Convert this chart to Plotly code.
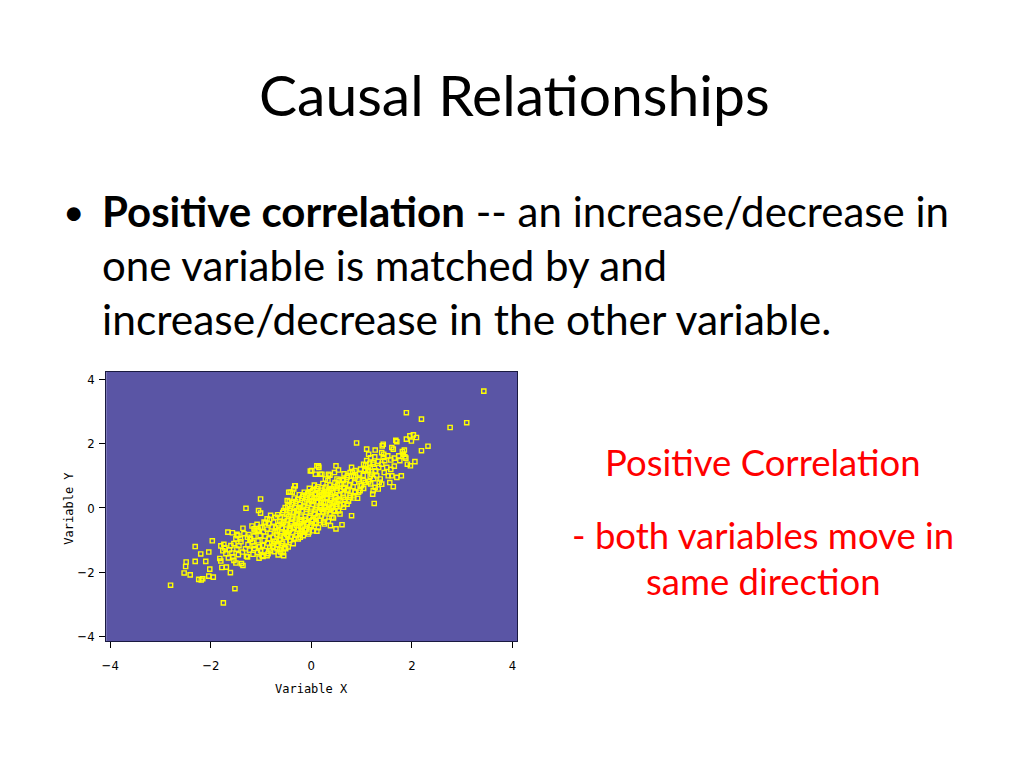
import plotly.graph_objects as go

# ---- data ----
lower_tail = [(-2.80,-2.40),(-1.75,-2.95),(-1.52,-2.51),(-2.31,-1.20),(-2.53,-2.02),(-2.41,-2.08),
    (-2.50,-1.82),(-2.49,-1.68),(-2.31,-1.66),(-2.24,-2.22),(-2.19,-2.24),(-2.16,-2.20),(-2.20,-1.43),
    (-2.10,-1.66),(-2.04,-1.37),(-2.04,-2.12),(-1.95,-2.15),(-2.02,-1.90),(-1.97,-1.02),(-1.82,-1.57),
    (-1.80,-1.65),(-1.78,-1.85),(-1.69,-1.84),(-1.61,-2.01),(-1.74,-1.13),(-1.72,-1.24),(-1.76,-1.33),
    (-1.80,-1.18),(-1.70,-1.42),(-1.66,-0.75),(-1.57,-0.77),(-1.48,-0.82),(-1.54,-1.63),(-1.50,-1.71),
    (-1.56,-1.52),(-1.39,-1.73),(-1.36,-1.79),(-1.29,-1.50),(-1.36,-0.63),(-1.30,-0.01),(-1.01,0.28),
    (-1.05,-0.08),(-1.01,-0.16),(-1.41,-0.96),(-1.44,-1.17),(-1.37,-1.37),(-1.31,-1.27),(-1.54,-1.11),
    (-1.60,-1.17),(-1.50,-0.96),(-1.46,-0.86),(-1.63,-1.30),(-1.58,-1.40),(-1.45,-1.45),(-1.40,-1.05),
    (-1.34,-0.80),(-1.48,-1.28),(-1.65,-1.55)]

upper_tail = [(3.43,3.63),(1.89,2.96),(2.19,2.76),(2.76,2.50),(3.09,2.65),(2.32,1.92),(2.19,1.78),
    (2.06,1.44),(1.68,2.10),(1.89,2.14),(1.96,2.24),(2.03,2.27),(2.09,2.19),(1.99,2.08),(0.90,2.02),
    (1.10,1.83),(1.14,1.67),(1.10,1.47),(1.27,1.80),(1.41,1.93),(1.43,1.98),(1.40,1.72),(1.44,1.67),
    (1.43,1.57),(1.58,1.49),(1.63,1.83),(1.60,1.88),(1.70,2.06),(1.76,1.47),(1.83,1.67),(1.81,1.75),
    (1.86,1.59),(1.88,1.55),(1.91,1.36),(1.97,1.31),(1.79,1.00),(1.60,1.00),(1.53,1.00),(1.70,0.95),
    (1.56,0.79),(1.63,0.66),(1.40,0.74),(1.33,0.59),(1.27,0.64),(1.23,0.54),(1.22,0.43),(1.25,0.14),
    (1.23,1.41),(1.17,1.26),(1.13,1.16),(1.34,1.26),(1.40,1.36),(1.46,1.47),(1.50,1.26),(1.30,1.00),
    (1.37,0.90),(1.20,1.05),(1.28,1.15),(1.33,1.45),(1.52,1.62),(1.65,1.55),(1.74,1.62),(1.85,1.80),
    (1.45,1.10),(1.35,0.80),(1.18,0.75),(1.58,1.20),(1.65,1.30)]

mid_right = [(0.49,-0.65),(0.61,-0.52),(0.38,-0.55),(0.26,-0.50),(0.11,-0.72),(0.80,-0.24),(0.92,0.30),
    (0.87,0.49),(0.97,0.54),(1.00,0.69),(1.04,0.85),(0.84,1.00),(0.87,1.16),(0.80,1.26),(0.77,1.10),
    (0.64,0.85),(0.71,0.95),(0.57,0.74),(0.51,0.90),(0.49,1.31),(0.54,1.18),(0.46,1.10),(0.34,1.05),
    (0.28,0.90),(0.11,1.31),(0.15,1.26),(0.18,1.05),(0.08,1.05),(0.01,1.16),(0.21,1.05),(0.14,1.31),
    (-0.02,1.15),(0.37,1.02),(1.07,1.16),(1.04,1.36),(0.57,-0.19),(0.64,0.02),(0.71,0.12),(0.77,0.33),
    (0.64,0.33),(0.57,0.23),(0.51,0.12),(0.44,-0.08),(0.41,-0.29),(0.84,0.38),(0.71,0.54),(0.64,0.64),
    (0.51,0.54),(0.38,0.43),(0.31,0.33),(0.24,0.18),(0.18,0.02)]

mid_left = [(-0.22,-0.91),(-0.18,-0.75),(-0.05,-0.75),(-0.48,0.23),(-0.38,0.49),(-0.35,0.59),(-0.32,0.69),
    (-0.45,0.49),(-0.55,-0.08),(-0.55,-1.48),(-0.61,-1.37),(-0.51,-1.27),(-0.68,-1.27),(-0.75,-1.11),
    (-0.81,-1.32),(-0.88,-1.48),(-0.98,-1.48),(-1.01,-1.32),(-1.14,-1.17),(-1.21,-0.96),(-1.27,-0.91),
    (-1.14,-0.65),(-1.08,-0.70),(-1.01,-0.60),(-0.94,-0.44),(-0.88,-0.34),(-0.81,-0.23),(-0.42,0.49),
    (-0.33,0.69)]

core = [(-1.27,-1.52),(-1.23,-1.31),(-1.26,-1.14),(-1.22,-0.97),(-1.24,-0.83),
    (-1.16,-1.44),(-1.13,-1.26),(-1.17,-1.06),(-1.14,-0.88),(-1.12,-0.72),(-1.18,-0.56),
    (-1.04,-1.56),(-1.07,-1.38),(-1.03,-1.21),(-1.06,-1.02),(-1.02,-0.86),(-1.05,-0.69),(-1.08,-0.51),
    (-0.96,-1.51),(-0.93,-1.33),(-0.97,-1.16),(-0.94,-1.01),(-0.92,-0.88),(-0.95,-0.74),(-0.98,-0.61),(-0.91,-0.46),
    (-0.86,-1.42),(-0.83,-1.24),(-0.87,-1.09),(-0.84,-0.96),(-0.82,-0.79),(-0.88,-0.66),(-0.85,-0.49),(-0.83,-0.36),
    (-0.74,-1.36),(-0.77,-1.19),(-0.73,-1.04),(-0.76,-0.91),(-0.72,-0.74),(-0.78,-0.59),(-0.75,-0.44),(-0.71,-0.29),
    (-0.66,-1.46),(-0.63,-1.29),(-0.67,-1.14),(-0.64,-0.99),(-0.62,-0.86),(-0.68,-0.71),(-0.65,-0.54),(-0.63,-0.41),(-0.67,-0.21),
    (-0.56,-1.39),(-0.53,-1.24),(-0.57,-1.11),(-0.54,-0.91),(-0.52,-0.76),(-0.58,-0.61),(-0.55,-0.44),(-0.53,-0.31),(-0.57,-0.14),(-0.52,0.01),
    (-0.46,-1.21),(-0.43,-1.01),(-0.47,-0.86),(-0.44,-0.69),(-0.42,-0.56),(-0.48,-0.39),(-0.45,-0.26),(-0.43,-0.09),(-0.47,0.06),(-0.44,0.21),
    (-0.36,-1.11),(-0.33,-0.94),(-0.37,-0.76),(-0.34,-0.61),(-0.32,-0.44),(-0.38,-0.31),(-0.35,-0.14),(-0.33,0.01),(-0.37,0.16),(-0.34,0.31),
    (-0.26,-0.96),(-0.23,-0.79),(-0.27,-0.66),(-0.24,-0.49),(-0.22,-0.36),(-0.28,-0.19),(-0.25,-0.04),(-0.23,0.11),(-0.27,0.26),(-0.24,0.41),
    (-0.16,-0.86),(-0.13,-0.69),(-0.17,-0.56),(-0.14,-0.39),(-0.12,-0.26),(-0.18,-0.09),(-0.15,0.06),(-0.13,0.19),(-0.17,0.36),(-0.14,0.49),
    (-0.06,-0.81),(-0.03,-0.59),(-0.07,-0.46),(-0.04,-0.29),(-0.02,-0.16),(-0.08,0.01),(-0.05,0.14),(-0.03,0.31),(-0.07,0.44),(-0.04,0.61),
    (0.04,-0.71),(0.07,-0.49),(0.03,-0.36),(0.06,-0.19),(0.08,-0.06),(0.02,0.11),(0.05,0.24),(0.07,0.41),(0.03,0.54),(0.06,0.71),
    (0.14,-0.61),(0.17,-0.39),(0.13,-0.26),(0.16,-0.11),(0.18,0.06),(0.12,0.19),(0.15,0.36),(0.17,0.49),(0.13,0.66),
    (0.24,-0.44),(0.27,-0.31),(0.23,-0.14),(0.26,0.01),(0.28,0.16),(0.22,0.29),(0.25,0.46),(0.27,0.59),(0.23,0.76),
    (0.34,-0.41),(0.37,-0.19),(0.33,-0.06),(0.36,0.11),(0.38,0.24),(0.32,0.41),(0.35,0.54),(0.37,0.71),(0.33,0.86),
    (0.44,-0.31),(0.47,-0.11),(0.43,0.06),(0.46,0.19),(0.48,0.36),(0.42,0.49),(0.45,0.66),(0.47,0.79),
    (0.54,-0.09),(0.57,0.09),(0.53,0.26),(0.56,0.41),(0.58,0.54),(0.52,0.71),(0.55,0.86),
    (0.64,0.11),(0.67,0.26),(0.63,0.44),(0.66,0.61),(0.68,0.76),(0.62,0.89),(0.65,1.06),
    (0.74,0.21),(0.77,0.39),(0.73,0.56),(0.76,0.71),(0.78,0.86),(0.72,1.01),
    (0.84,0.31),(0.87,0.51),(0.83,0.66),(0.86,0.79),(0.88,0.96),(0.82,1.11),
    (0.94,0.49),(0.97,0.71),(0.93,0.89),(0.96,1.06),(0.98,1.21),
    (1.04,0.61),(1.07,0.79),(1.03,1.01),(1.06,1.19),(1.08,1.34),
    (1.14,0.81),(1.17,0.99),(1.13,1.21),(1.16,1.39),(1.18,1.56),
    (1.24,0.91),(1.27,1.14),(1.23,1.36),(1.26,1.59)]

dense_centre = [(-0.70,-1.05),(-0.69,-0.82),(-0.71,-0.62),
    (-0.60,-1.18),(-0.61,-0.97),(-0.59,-0.78),(-0.60,-0.50),(-0.62,-0.30),
    (-0.50,-1.05),(-0.49,-0.82),(-0.51,-0.66),(-0.50,-0.50),(-0.49,-0.20),
    (-0.40,-0.90),(-0.41,-0.65),(-0.39,-0.48),(-0.40,-0.35),(-0.41,-0.02),(-0.39,0.10),
    (-0.30,-0.85),(-0.29,-0.55),(-0.31,-0.38),(-0.30,-0.22),(-0.29,-0.08),(-0.31,0.20),
    (-0.20,-0.72),(-0.21,-0.58),(-0.19,-0.42),(-0.20,-0.28),(-0.21,0.02),(-0.19,0.30),
    (-0.10,-0.65),(-0.09,-0.50),(-0.11,-0.35),(-0.10,-0.05),(-0.09,0.25),(-0.11,0.40),
    (0.00,-0.55),(0.01,-0.40),(-0.01,-0.10),(0.00,0.20),(0.01,0.35),(-0.01,0.50),
    (0.10,-0.45),(0.09,-0.30),(0.11,0.00),(0.10,0.30),(0.09,0.45),(0.11,0.60),
    (0.20,-0.25),(0.21,-0.05),(0.19,0.22),(0.20,0.40),(0.21,0.55),
    (0.30,-0.12),(0.29,0.05),(0.31,0.30),(0.30,0.50),(0.29,0.65),
    (0.40,0.00),(0.41,0.15),(0.39,0.30),(0.40,0.60),
    (0.50,0.05),(0.49,0.32),(0.51,0.62)]

tick_values = [-4, -2, 0, 2, 4]
title_text = "Causal Relationships"
bullet_bold = "Positive correlation"
bullet_lines = [" -- an increase/decrease in",
                "one variable is matched by and",
                "increase/decrease in the other variable."]
side_lines = ["Positive Correlation", "- both variables move in", "same direction"]

points = lower_tail + upper_tail + mid_right + mid_left + core + dense_centre
xs = [p[0] for p in points]
ys = [p[1] for p in points]

W, H = 1024, 768
def px(x):
    return x / W
def py(y):
    return 1 - y / H

fig = go.Figure()
fig.add_trace(go.Scatter(
    x=xs, y=ys, mode="markers",
    marker=dict(symbol="square-open", size=4.2, color="#FFFF00",
                line=dict(width=1.4, color="#FFFF00")),
    showlegend=False, hoverinfo="skip"))

tick_font = dict(family="Liberation Sans Narrow, DejaVu Sans Condensed, sans-serif",
                 size=13, color="black")
axis_common = dict(tickmode="array", tickvals=tick_values, ticks="outside", ticklen=6,
                   tickwidth=1, tickcolor="black", showline=True, linecolor="#1a1a40",
                   linewidth=1, mirror=True, showgrid=False, zeroline=False,
                   tickfont=tick_font)

fig.update_layout(
    width=W, height=H, margin=dict(l=0, r=0, t=0, b=0),
    paper_bgcolor="white", plot_bgcolor="#5A55A5",
    xaxis=dict(domain=[px(101.7), px(515)], range=[-4.08, 4.1],
               ticklabelstandoff=6, **axis_common),
    yaxis=dict(domain=[py(644), py(373)], range=[-4.15, 4.24],
               ticklabelstandoff=2, **axis_common),
)

ann = []
ann.append(dict(x=px(512), y=py(94), text=title_text,
                font=dict(family="Lato", size=57, color="black")))
ann.append(dict(x=px(69), y=py(211), text="•",
                font=dict(family="Lato", size=37, color="black")))
ann.append(dict(x=px(95), y=py(212), xanchor="left",
                text="<b>" + bullet_bold + "</b>" + bullet_lines[0],
                font=dict(family="Lato", size=42, color="black")))
ann.append(dict(x=px(95), y=py(266), xanchor="left", text=bullet_lines[1],
                font=dict(family="Lato", size=42, color="black")))
ann.append(dict(x=px(95), y=py(320), xanchor="left", text=bullet_lines[2],
                font=dict(family="Lato", size=42.5, color="black")))
for txt, yy in zip(side_lines, [464, 537, 583]):
    ann.append(dict(x=px(762), y=py(yy), text=txt,
                    font=dict(family="Lato", size=36.5, color="#FF0000")))
axis_title_font = dict(family="DejaVu Sans Mono, monospace", size=12, color="black")
ann.append(dict(x=px(308), y=py(692), text="Variable X", font=axis_title_font))
ann.append(dict(x=px(64), y=py(510), text="Variable Y", textangle=-90, font=axis_title_font))

for a in ann:
    a.setdefault("xanchor", "center")
    a.update(xref="paper", yref="paper", yanchor="middle", showarrow=False)
fig.update_layout(annotations=ann)

fig.write_html("out.html", config={"displayModeBar": False},
               post_script="document.body.style.margin='0';document.body.style.overflow='hidden';")
